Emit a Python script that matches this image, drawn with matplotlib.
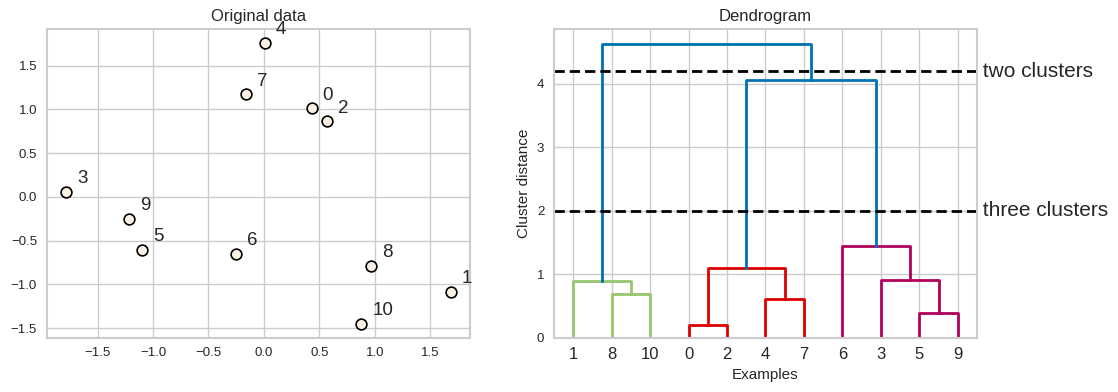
import matplotlib
matplotlib.use("Agg")
import matplotlib.pyplot as plt

# scatter data (index -> x, y)
point_ids = [0, 1, 2, 3, 4, 5, 6, 7, 8, 9, 10]
xs = [0.43, 1.686, 0.57, -1.786, 0.01, -1.10, -0.254, -0.164, 0.967, -1.217, 0.877]
ys = [1.011, -1.087, 0.862, 0.059, 1.756, -0.602, -0.652, 1.171, -0.785, -0.250, -1.450]

# dendrogram: leaf order and linkage rows (left id, right id, height, colour group)
leaf_order = [1, 8, 10, 0, 2, 4, 7, 6, 3, 5, 9]
link_left = [0, 5, 4, 8, 1, 3, 11, 6, 17, 15]
link_right = [2, 9, 7, 10, 14, 12, 13, 16, 18, 19]
link_height = [0.205, 0.384, 0.615, 0.683, 0.894, 0.915, 1.104, 1.45, 4.06, 4.63]
link_group = ["r", "m", "r", "g", "g", "m", "r", "m", "b", "b"]
cut_heights = [4.2, 2.0]
cut_labels = ["two clusters", "three clusters"]

colors = {"b": "#0072B2", "g": "#98C56E", "r": "#DD0000", "m": "#B2005C"}

plt.rcParams["font.family"] = ["Liberation Sans", "DejaVu Sans"]
plt.rcParams["text.color"] = "#262626"
plt.rcParams["axes.labelcolor"] = "#262626"
plt.rcParams["xtick.color"] = "#262626"
plt.rcParams["ytick.color"] = "#262626"

fig = plt.figure(figsize=(11.18, 3.92), dpi=100)
ax1 = fig.add_axes([0.0418, 0.1385, 0.3786, 0.787])
ax2 = fig.add_axes([0.4955, 0.1385, 0.3784, 0.787])

for ax in (ax1, ax2):
    ax.set_facecolor("white")
    for sp in ax.spines.values():
        sp.set_color("#cccccc")
        sp.set_linewidth(1.5)
    ax.grid(True, color="#cccccc", linewidth=1.0)
    ax.set_axisbelow(True)
    ax.tick_params(length=0, labelsize=9.5, pad=7)

# left: original data
ax1.scatter(xs, ys, s=60, facecolor="#FBF0E4", edgecolor="black", linewidth=1.2, zorder=3)
for i, x, y in zip(point_ids, xs, ys):
    ax1.text(x + 0.1, y + 0.1, str(i), fontsize=13.5)
ax1.set_title("Original data", fontsize=12)

# right: dendrogram
n = len(leaf_order)
pos = {leaf: 5 + 10 * k for k, leaf in enumerate(leaf_order)}
hgt = {leaf: 0.0 for leaf in leaf_order}
for k, (a, b, h, g) in enumerate(zip(link_left, link_right, link_height, link_group)):
    node = n + k
    xa, xb = pos[a], pos[b]
    ax2.plot([xa, xa, xb, xb], [hgt[a], h, h, hgt[b]], color=colors[g], linewidth=2)
    pos[node] = (xa + xb) / 2
    hgt[node] = h

ax2.set_xlim(0, 10 * n)
ax2.set_ylim(0, max(link_height) * 1.05)
ax2.set_xticks([5 + 10 * k for k in range(n)])
ax2.set_xticklabels([str(l) for l in leaf_order], fontsize=12)
ax2.set_yticks([0, 1, 2, 3, 4])

for h, lab in zip(cut_heights, cut_labels):
    ax2.plot([0, 10 * n], [h, h], "--", color="black", linewidth=2, dashes=(3.7, 1.8))
    ax2.text(10 * n, h, " " + lab, va="center", fontsize=15, clip_on=False)

ax2.set_title("Dendrogram", fontsize=12)
ax2.set_xlabel("Examples", fontsize=11)
ax2.set_ylabel("Cluster distance", fontsize=11)

fig.savefig("out.png", dpi=100)
